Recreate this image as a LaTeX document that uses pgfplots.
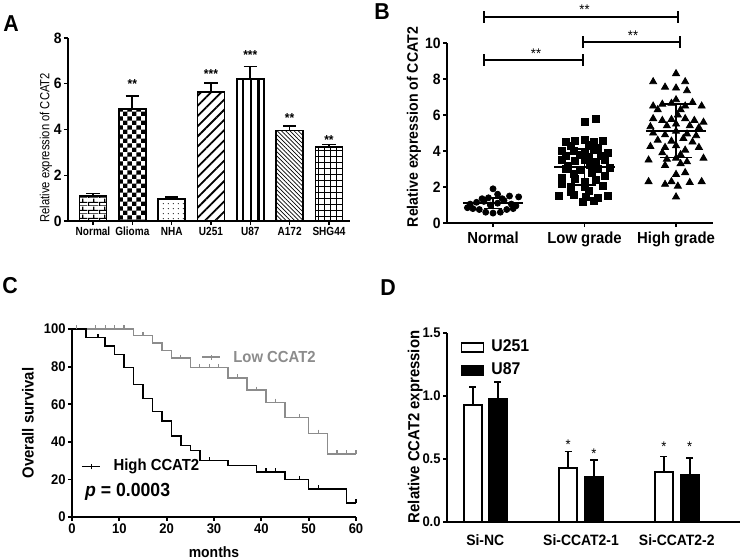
\documentclass[border=0pt]{standalone}
\usepackage{fontspec}
\setmainfont{Liberation Sans}[FakeStretch=0.93]
\newfontfamily\afont{Liberation Sans}[FakeStretch=0.85]
\usepackage{pgfplots}
\pgfplotsset{compat=1.18}
\usetikzlibrary{patterns,patterns.meta}

\definecolor{lowgray}{RGB}{140,140,140}

% hand made fills for panel A
\pgfdeclarepatternformonly{mybricks}{\pgfpointorigin}{\pgfqpoint{5.5pt}{4pt}}{\pgfqpoint{5.5pt}{4pt}}{
  \pgfsetlinewidth{0.6pt}
  \pgfpathmoveto{\pgfqpoint{0pt}{0pt}}\pgfpathlineto{\pgfqpoint{5.5pt}{0pt}}
  \pgfpathmoveto{\pgfqpoint{0pt}{2pt}}\pgfpathlineto{\pgfqpoint{5.5pt}{2pt}}
  \pgfpathmoveto{\pgfqpoint{0.3pt}{0pt}}\pgfpathlineto{\pgfqpoint{0.3pt}{2pt}}
  \pgfpathmoveto{\pgfqpoint{3.05pt}{2pt}}\pgfpathlineto{\pgfqpoint{3.05pt}{4pt}}
  \pgfusepath{stroke}}
\pgfdeclarepatternformonly{mychecker}{\pgfpointorigin}{\pgfqpoint{4.4pt}{4.4pt}}{\pgfqpoint{4.4pt}{4.4pt}}{
  \pgfpathrectangle{\pgfpointorigin}{\pgfqpoint{2.2pt}{2.2pt}}
  \pgfpathrectangle{\pgfqpoint{2.2pt}{2.2pt}}{\pgfqpoint{2.2pt}{2.2pt}}
  \pgfusepath{fill}}
\pgfdeclarepatternformonly{mydots}{\pgfpointorigin}{\pgfqpoint{2.6pt}{2.6pt}}{\pgfqpoint{2.6pt}{2.6pt}}{
  \pgfpathcircle{\pgfqpoint{1.3pt}{1.3pt}}{0.32pt}
  \pgfusepath{fill}}

\pgfplotsset{
  gp/.style={scale only axis, anchor=south west, clip=false,
    axis lines=left, axis line style={-, line width=0.9pt},
    tick align=outside, major tick length=2pt,
    tick style={black, line width=0.9pt},
    tick label style={inner sep=1pt},
    /pgf/number format/assume math mode=true},
  abar/.style={ybar, bar width=13.5pt, bar shift=0pt, draw=black, line width=0.85pt,
    error bars/y dir=plus, error bars/y explicit,
    error bars/error bar style={black, line width=0.85pt},
    error bars/error mark options={black, rotate=90, mark size=3.3pt, line width=0.85pt}},
  dbar/.style={ybar, bar width=9pt, bar shift=0pt, draw=black, line width=0.9pt,
    error bars/y dir=plus, error bars/y explicit,
    error bars/error bar style={black, line width=0.9pt},
    error bars/error mark options={black, rotate=90, mark size=1.8pt, line width=0.9pt}},
}

\begin{document}
\begin{tikzpicture}
\useasboundingbox (0,0) rectangle (370pt,-279pt);

\node[font=\bfseries\fontsize{11.5}{12}\selectfont] at (5.5pt,-12pt) {A};
\node[font=\bfseries\fontsize{11.5}{12}\selectfont] at (191pt,-6pt) {B};
\node[font=\bfseries\fontsize{11.5}{12}\selectfont] at (5pt,-143pt) {C};
\node[font=\bfseries\fontsize{11.5}{12}\selectfont] at (194pt,-144pt) {D};

% ---------- A
\begin{axis}[gp, at={(34pt,-110.5pt)}, width=141pt, height=91.5pt,
  xmin=-0.636, xmax=6.535, ymin=0, ymax=8,
  ytick={0,2,4,6,8}, xtick={0,...,6},
  xticklabels={Normal,Glioma,NHA,U251,U87,A172,SHG44},
  axis line style={-, line width=0.75pt}, tick style={line width=0.75pt},
  xticklabel style={font=\afont\bfseries\fontsize{5.9}{7}\selectfont},
  yticklabel style={font=\bfseries\fontsize{7.5}{8}\selectfont},
  ylabel={Relative expression of CCAT2},
  ylabel style={font=\afont\fontsize{6.6}{7}\selectfont,
    at={(axis description cs:-0.078,0.40)}, anchor=center},
]
\addplot[abar, pattern=mybricks] coordinates {(0,1.1) +- (0,0.1)};
\addplot[abar, pattern=mychecker] coordinates {(1,4.9) +- (0,0.55)};
\addplot[abar, pattern=mydots] coordinates {(2,0.95) +- (0,0.1)};
\addplot[abar, pattern={Lines[angle=45,distance=3.6pt,line width=0.9pt]}] coordinates {(3,5.65) +- (0,0.38)};
\addplot[abar, pattern={Lines[angle=90,distance=3.8pt,line width=1.1pt]}] coordinates {(4,6.2) +- (0,0.55)};
\addplot[abar, pattern={Lines[angle=-45,distance=1.5pt,line width=0.35pt]}] coordinates {(5,3.95) +- (0,0.2)};
\addplot[abar, pattern={Hatch[angle=0,distance=3pt,line width=0.45pt]}] coordinates {(6,3.25) +- (0,0.1)};
\begin{scope}[every node/.style={anchor=base, inner sep=0pt, font=\bfseries\fontsize{6.5}{7}\selectfont}]
\node at (axis cs:1,5.78) {**};
\node at (axis cs:3,6.22) {***};
\node at (axis cs:4,7.07) {***};
\node at (axis cs:5,4.29) {**};
\node at (axis cs:6,3.36) {**};
\end{scope}
\end{axis}

% ---------- B
\begin{axis}[gp, at={(223.5pt,-111.5pt)}, width=133pt, height=90pt,
  xmin=-0.503, xmax=2.404, ymin=0, ymax=10,
  ytick={0,2,4,6,8,10}, xtick={0,1,2},
  xticklabels={Normal,Low grade,High grade},
  xticklabel style={font=\bfseries\fontsize{8}{9}\selectfont, yshift=-1pt},
  yticklabel style={font=\bfseries\fontsize{7.5}{8}\selectfont},
  ylabel={Relative expression of CCAT2},
  ylabel style={font=\bfseries\fontsize{7.6}{8}\selectfont,
    at={(axis description cs:-0.124,0.533)}, anchor=center},
  unbounded coords=jump,
]
\addplot[only marks, mark=*, mark size=1.5pt, black] coordinates {
  (-0.22,0.8) (-0.15,0.75) (-0.08,0.6) (0,0.55) (0.08,0.6) (0.15,0.75) (0.22,0.8)
  (-0.25,1.05) (-0.18,1.15) (-0.1,1.2) (-0.03,1.0) (0.05,1.1) (0.12,1.25) (0.2,1.05)
  (0.28,1.45) (-0.05,1.4) (0.05,1.6) (0,1.9) (0.1,1.35) (-0.12,1.35) (0.18,1.5)
  (0.25,0.95) (-0.28,0.85)};
\addplot[only marks, mark=square*, mark size=1.75pt, black] coordinates {
  (1.0,5.6) (1.12,5.8) (0.8,4.5) (0.9,4.55) (1.0,4.6) (1.1,4.5) (1.2,4.55) (0.85,4.3)
  (1.05,4.35) (1.15,4.2) (0.75,4.0) (0.88,4.0) (1.0,3.95) (1.1,4.05) (1.25,3.9)
  (0.8,3.75) (0.95,3.8) (1.05,3.7) (1.18,3.75) (0.75,3.5) (0.9,3.45) (1.0,3.5)
  (1.12,3.4) (1.22,3.5) (0.82,3.2) (1.06,3.25) (0.8,3.0) (0.95,2.95) (1.15,3.0)
  (1.28,3.05) (0.88,2.75) (1.08,2.8) (1.22,2.6) (0.75,2.5) (0.9,2.45) (1.0,2.3)
  (1.12,2.4) (0.75,2.2) (0.85,2.0) (1.0,2.0) (1.2,2.05) (0.72,1.5) (0.88,1.55)
  (1.02,1.45) (1.15,1.4) (1.25,1.5) (0.85,1.75) (1.05,1.8) (1.1,1.25) (0.98,1.2)};
\addplot[only marks, mark=triangle*, mark size=2pt, black] coordinates {
  (2.0,8.3) (1.75,7.85) (2.1,7.85) (1.88,7.55) (2.0,7.5) (2.12,7.35) (1.75,6.5)
  (1.85,6.6) (1.95,6.65) (2.0,6.85) (2.1,6.5) (2.18,6.7) (2.28,6.5) (1.8,6.3)
  (2.05,6.3) (1.75,5.8) (1.85,5.7) (1.95,5.75) (2.02,6.0) (2.1,5.8) (2.2,5.7)
  (2.3,5.6) (1.72,5.35) (1.9,5.4) (2.0,5.5) (2.15,5.4) (2.25,5.3) (1.75,5.0)
  (1.88,4.9) (2.0,5.1) (2.12,4.95) (2.22,4.85) (1.8,4.6) (1.95,4.55) (2.08,4.7)
  (2.18,4.5) (1.72,4.25) (1.88,4.2) (2.0,4.3) (2.1,4.05) (2.25,4.2) (1.85,3.9)
  (2.05,3.8) (1.7,3.5) (1.9,3.55) (2.0,3.6) (2.12,3.4) (2.3,3.6) (1.88,3.2)
  (2.05,3.3) (2.1,2.8) (2.0,2.7) (1.7,2.3) (1.88,2.15) (1.95,2.3) (2.02,2.05)
  (2.15,2.25) (2.28,2.3) (2.0,1.45)};
% mean and SD
\addplot[black, line width=0.8pt, no markers] coordinates {
  (-0.33,1.1) (0.33,1.1) (nan,nan) (0,0.8) (0,1.4) (nan,nan)
  (-0.1,0.8) (0.1,0.8) (nan,nan) (-0.1,1.4) (0.1,1.4) (nan,nan)
  (0.67,3.1) (1.33,3.1) (nan,nan) (1,2.1) (1,4.1) (nan,nan)
  (0.88,2.1) (1.12,2.1) (nan,nan) (0.88,4.1) (1.12,4.1) (nan,nan)
  (1.67,5.1) (2.33,5.1) (nan,nan) (2,3.65) (2,6.6) (nan,nan)
  (1.83,3.65) (2.17,3.65) (nan,nan) (1.83,6.6) (2.17,6.6)};
% significance brackets
\draw[line width=0.9pt] (axis cs:-0.1,11.45) -- (axis cs:2.02,11.45);
\draw[line width=0.9pt] (axis cs:-0.1,11.12) -- (axis cs:-0.1,11.78);
\draw[line width=0.9pt] (axis cs:2.02,11.12) -- (axis cs:2.02,11.78);
\draw[line width=0.9pt] (axis cs:0.98,10.05) -- (axis cs:2.04,10.05);
\draw[line width=0.9pt] (axis cs:0.98,9.72) -- (axis cs:0.98,10.38);
\draw[line width=0.9pt] (axis cs:2.04,9.72) -- (axis cs:2.04,10.38);
\draw[line width=0.9pt] (axis cs:-0.1,9.05) -- (axis cs:0.98,9.05);
\draw[line width=0.9pt] (axis cs:-0.1,8.72) -- (axis cs:-0.1,9.38);
\draw[line width=0.9pt] (axis cs:0.98,8.72) -- (axis cs:0.98,9.38);
\begin{scope}[every node/.style={anchor=base, inner sep=0pt, font=\fontsize{7}{7}\selectfont}]
\node at (axis cs:1.0,11.6) {**};
\node at (axis cs:1.53,10.15) {**};
\node at (axis cs:0.47,9.15) {**};
\end{scope}
\end{axis}

% ---------- C
\begin{axis}[gp, at={(36pt,-258.5pt)}, width=142pt, height=94pt,
  xmin=0, xmax=60, ymin=0, ymax=100,
  xtick={0,10,...,60}, ytick={0,20,...,100},
  tick label style={font=\bfseries\fontsize{7}{8}\selectfont},
  xlabel={months}, ylabel={Overall survival},
  xlabel style={font=\bfseries\fontsize{7.5}{8}\selectfont,
    at={(axis description cs:0.5,-0.186)}, anchor=center},
  ylabel style={font=\bfseries\fontsize{8}{9}\selectfont,
    at={(axis description cs:-0.155,0.5)}, anchor=center},
]
\addplot[const plot, lowgray, line width=0.75pt, no markers] coordinates {
  (0,100) (13,96.5) (17,92.5) (19,88.5) (21,84.5) (25,79.5) (33,74) (37,67.5)
  (41,61) (45,53) (50,44.5) (54,33.5) (60,33.5)};
\addplot[only marks, lowgray, mark=|, mark size=0.9pt,
  mark options={yshift=0.9pt, line width=0.6pt}] coordinates {
  (1,100) (5,100) (7,100) (9,100) (11,100) (15,96.5) (23,84.5) (27,79.5) (29,79.5)
  (31,79.5) (35,74) (39,67.5) (43,61) (48,53) (52,44.5) (56,33.5) (58,33.5) (60,33.5)};
\addplot[const plot, black, line width=0.75pt, no markers] coordinates {
  (0,100) (3,95.5) (7,91) (9,86.5) (11,79.5) (13,70.5) (15,63) (17,56) (19,51)
  (21,43) (23,38) (25,35.5) (27,30) (33,27.5) (39,24) (45,20) (50,15) (58,7.5) (60,7.5)};
\addplot[only marks, black, mark=|, mark size=0.9pt,
  mark options={yshift=0.9pt, line width=0.6pt}] coordinates {
  (5.5,95.5) (29,30) (41,24) (43,24) (48,20) (52,15) (60,7.5)};
% legend samples
\draw[lowgray, line width=0.75pt] (axis cs:27.5,85) -- (axis cs:31.3,85);
\draw[lowgray, line width=0.6pt] (axis cs:29.4,83.6) -- (axis cs:29.4,86.4);
\node[anchor=west, inner sep=0pt, text=lowgray, font=\bfseries\fontsize{8}{9}\selectfont]
  at (axis cs:34,85) {Low CCAT2};
\draw[black, line width=0.75pt] (axis cs:2.1,26.8) -- (axis cs:6.0,26.8);
\draw[black, line width=0.6pt] (axis cs:4.05,25.4) -- (axis cs:4.05,28.2);
\node[anchor=west, inner sep=0pt, font=\bfseries\fontsize{8}{9}\selectfont]
  at (axis cs:8.7,26.8) {High CCAT2};
\node[anchor=west, inner sep=0pt, font=\bfseries\fontsize{9.5}{10}\selectfont]
  at (axis cs:2.7,13.5) {\textit{p} = 0.0003};
\end{axis}

% ---------- D
\begin{axis}[gp, at={(223.5pt,-261pt)}, width=146.5pt, height=94.5pt,
  xmin=-0.40, xmax=2.66, ymin=0, ymax=1.5,
  ytick={0,0.5,1,1.5}, xtick={0,1,2},
  xticklabels={Si-NC,Si-CCAT2-1,Si-CCAT2-2},
  xtick style={draw=none},
  xticklabel style={font=\bfseries\fontsize{7.5}{8}\selectfont, yshift=-3pt},
  yticklabel style={font=\bfseries\fontsize{7}{8}\selectfont,
    /pgf/number format/fixed, /pgf/number format/fixed zerofill,
    /pgf/number format/precision=1},
  ylabel={Relative CCAT2 expression},
  ylabel style={font=\bfseries\fontsize{8}{9}\selectfont,
    at={(axis description cs:-0.108,0.503)}, anchor=center},
  legend image code/.code={\draw[#1, line width=0.9pt] (0pt,-2.3pt) rectangle (11pt,2.3pt);
    \path (13.5pt,0pt);},
  legend style={at={(axis description cs:0.045,0.975)}, anchor=north west,
    draw=none, fill=none, inner sep=0pt, row sep=2pt,
    nodes={inner sep=1pt},
    font=\bfseries\fontsize{8.5}{9}\selectfont},
  legend cell align=left,
]
\addplot[dbar, fill=white] coordinates {
  (-0.13,0.93) +- (0,0.14) (0.865,0.43) +- (0,0.13) (1.865,0.40) +- (0,0.12)};
\addlegendentry{U251}
\addplot[dbar, fill=black] coordinates {
  (0.13,0.98) +- (0,0.13) (1.135,0.36) +- (0,0.13) (2.135,0.37) +- (0,0.14)};
\addlegendentry{U87}
\begin{scope}[every node/.style={anchor=base, inner sep=0pt, font=\fontsize{7}{7}\selectfont}]
\node at (axis cs:0.865,0.575) {*};
\node at (axis cs:1.135,0.505) {*};
\node at (axis cs:1.865,0.56) {*};
\node at (axis cs:2.135,0.56) {*};
\end{scope}
\end{axis}
\end{tikzpicture}
\end{document}
